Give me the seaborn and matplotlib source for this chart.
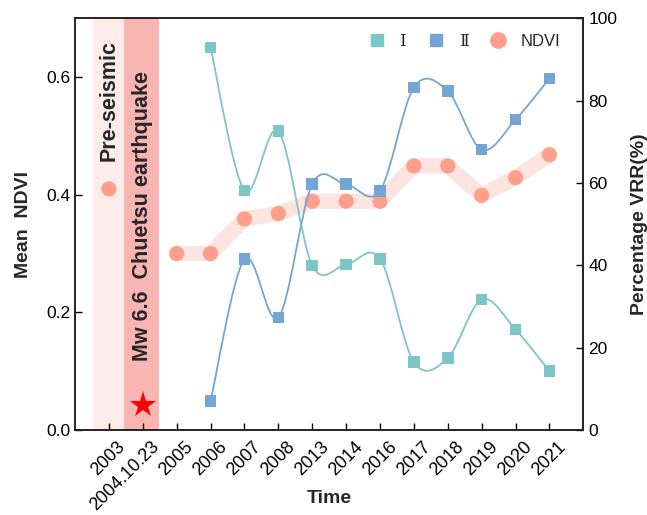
import numpy as np
import pandas as pd
import matplotlib
matplotlib.use("Agg")
import matplotlib.pyplot as plt
from matplotlib.path import Path
from matplotlib.patches import PathPatch
from matplotlib.lines import Line2D
from matplotlib.transforms import ScaledTranslation
import seaborn as sns

# ---------------- data ----------------
labels = ['2003', '2004.10.23', '2005', '2006', '2007', '2008', '2013', '2014',
          '2016', '2017', '2018', '2019', '2020', '2021']

pre_label = '2003'
pre_ndvi = 0.41

ndvi_years = ['2005', '2006', '2007', '2008', '2013', '2014', '2016', '2017',
              '2018', '2019', '2020', '2021']
ndvi = [0.300, 0.300, 0.359, 0.368, 0.389, 0.389, 0.389, 0.449, 0.449, 0.399,
        0.429, 0.468]

vrr_years = ['2006', '2007', '2008', '2013', '2014', '2016', '2017', '2018',
             '2019', '2020', '2021']
vrr_I = [92.9, 58.2, 72.6, 40.0, 40.2, 41.6, 16.5, 17.5, 31.7, 24.4, 14.3]
vrr_II = [7.0, 41.5, 27.3, 59.7, 59.7, 58.1, 83.2, 82.3, 68.1, 75.4, 85.4]

quake_label = '2004.10.23'
star_value = 0.042

# ---------------- style ----------------
sns.set_style("ticks")
plt.rcParams['font.family'] = ['Liberation Sans', 'DejaVu Sans']

c_I = '#7DC6C6'
c_II = '#74A5D4'
c_ndvi = '#FF9E8A'
c_band = '#FDE4E0'
c_pre = '#FDECE9'
c_quake = '#F9B5B2'

pos = {lab: i for i, lab in enumerate(labels)}
ndvi_df = pd.DataFrame({'x': [pos[y] for y in ndvi_years], 'v': ndvi})
vrr_df = pd.DataFrame({'x': [pos[y] for y in vrr_years], 'I': vrr_I, 'II': vrr_II})

fig = plt.figure(figsize=(6.47, 5.15), dpi=100)
ax = fig.add_axes([0.1159, 0.165, 0.9016 - 0.1159, 0.9645 - 0.165])
ax2 = ax.twinx()

# shaded periods
qx = pos[quake_label]
px = pos[pre_label]
ax.axvspan(px - 0.47, px + 0.45, color=c_pre, lw=0, zorder=0)
ax.axvspan(px + 0.45, qx + 0.48, color=c_quake, lw=0, zorder=0)

# NDVI band (thick translucent line)
sns.lineplot(data=ndvi_df, x='x', y='v', ax=ax, color=c_band, lw=11,
             solid_capstyle='butt', solid_joinstyle='miter', zorder=1,
             legend=False)
# NDVI points
sns.scatterplot(x=[px] + list(ndvi_df['x']), y=[pre_ndvi] + list(ndvi_df['v']),
                ax=ax, color=c_ndvi, s=120, edgecolor='none', zorder=3,
                legend=False)
# star
ax.plot([qx], [star_value], marker='*', color='#FF0000', markersize=20,
        markeredgewidth=0, zorder=4, linestyle='none')

# texts in bands
ax.text(px, 0.56, 'Pre-seismic', rotation=90, ha='center', va='center',
        fontsize=15.5, fontweight='bold', zorder=5)
ax.text(qx, 0.364, 'Mw 6.6  Chuetsu earthquake', rotation=90, ha='center',
        va='center', fontsize=15.5, fontweight='bold', zorder=5)


def smooth_path(xs, ys):
    xs = list(xs)
    ys = list(ys)
    n = len(xs)
    verts = [(xs[0], ys[0])]
    codes = [Path.MOVETO]
    for i in range(n - 1):
        x0, y0 = (xs[i - 1], ys[i - 1]) if i > 0 else (xs[i], ys[i])
        x3, y3 = (xs[i + 2], ys[i + 2]) if i + 2 < n else (xs[i + 1], ys[i + 1])
        c1 = (xs[i] + (xs[i + 1] - x0) / 6.0, ys[i] + (ys[i + 1] - y0) / 6.0)
        c2 = (xs[i + 1] - (x3 - xs[i]) / 6.0, ys[i + 1] - (y3 - ys[i]) / 6.0)
        verts += [c1, c2, (xs[i + 1], ys[i + 1])]
        codes += [Path.CURVE4] * 3
    return Path(verts, codes)


for col, c in (('I', c_I), ('II', c_II)):
    patch = PathPatch(smooth_path(vrr_df['x'], vrr_df[col]), fill=False,
                      edgecolor=c, lw=1.3, zorder=2)
    ax2.add_patch(patch)
    sns.scatterplot(data=vrr_df, x='x', y=col, ax=ax2, marker='s', color=c,
                    s=70, edgecolor='none', zorder=3, legend=False)

# axes
ax.set_xlim(-1, 14)
ax.set_ylim(0, 0.7)
ax2.set_ylim(0, 100)
ax.set_xticks(range(len(labels)))
ax.set_xticklabels(labels, rotation=45, ha='right', va='top',
                   rotation_mode='anchor', fontsize=13)
ax.set_yticks([0.0, 0.2, 0.4, 0.6])
ax.set_yticklabels(['0.0', '0.2', '0.4', '0.6'], fontsize=12.5)
ax2.set_yticks([0, 20, 40, 60, 80, 100])
ax2.set_yticklabels(['0', '20', '40', '60', '80', '100'], fontsize=12.5)

for a in (ax, ax2):
    a.tick_params(direction='in', length=5, width=1, colors='black')
    for s in a.spines.values():
        s.set_linewidth(1.2)
        s.set_color('#222222')
        s.set_visible(True)
ax.tick_params(axis='x', pad=6)
offset = ScaledTranslation(8 / 100, 0, fig.dpi_scale_trans)
for lab in ax.get_xticklabels():
    lab.set_transform(lab.get_transform() + offset)

ax.set_xlabel('Time', fontsize=14, fontweight='bold')
ax.xaxis.set_label_coords(0.5, -0.145)
ax.set_ylabel('Mean  NDVI', fontsize=14, fontweight='bold', labelpad=10)
ax2.set_ylabel('Percentage VRR(%)', fontsize=14, fontweight='bold', labelpad=10)

handles = [
    Line2D([], [], marker='s', color=c_I, linestyle='none', markersize=8),
    Line2D([], [], marker='s', color=c_II, linestyle='none', markersize=8),
    Line2D([], [], marker='o', color=c_ndvi, linestyle='none', markersize=11),
]
leg = ax2.legend(handles, ['Ⅰ', 'Ⅱ', 'NDVI'], ncol=3, loc='upper right',
                 frameon=False, fontsize=12, handletextpad=0.35,
                 columnspacing=0.8, bbox_to_anchor=(0.985, 1.0))
for t in leg.get_texts()[:2]:
    t.set_fontfamily(['DejaVu Serif', 'Noto Sans CJK SC'])

fig.savefig('out.png', dpi=100)
